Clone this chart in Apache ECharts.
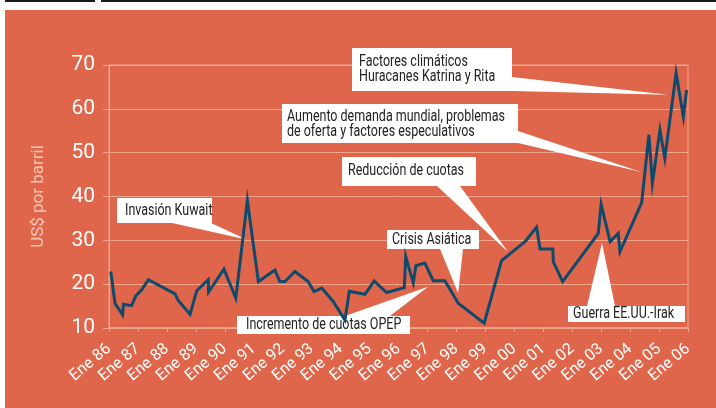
<!DOCTYPE html>
<html>
<head>
<meta charset="utf-8">
<title>Precio del petróleo</title>
<script src="https://cdn.jsdelivr.net/npm/echarts@6/dist/echarts.min.js"></script>
<style>
  html, body { margin: 0; padding: 0; background: #fff; }
  #wrap { position: relative; width: 716px; height: 408px; overflow: hidden; }
  .rule { position: absolute; top: 0; height: 2px; background: #1a1a1a; }
  #bg { position: absolute; left: 5px; top: 10px; right: 0; bottom: 0; background: #df664a; }
  #chart { position: absolute; left: 0; top: 0; width: 716px; height: 408px; }
</style>
</head>
<body>
<div id="wrap">
  <div class="rule" style="left:5px;width:90px"></div>
  <div class="rule" style="left:101px;right:0"></div>
  <div id="bg"></div>
  <div id="chart"></div>
</div>
<script type="text/javascript">
  // fecha (año decimal) y precio en US$ por barril
  var fechas = [1986.06, 1986.21, 1986.47, 1986.50, 1986.78, 1986.93, 1987.13, 1987.36, 1988.28, 1988.38,
                1988.80, 1989.03, 1989.43, 1989.44, 1989.97, 1990.38, 1990.78, 1991.16, 1991.73, 1991.90,
                1992.08, 1992.42, 1992.88, 1993.08, 1993.35, 1993.75, 1994.15, 1994.30, 1994.84, 1995.16,
                1995.59, 1996.20, 1996.25, 1996.51, 1996.60, 1996.91, 1997.20, 1997.60, 1998.07, 1998.96,
                1999.56, 2000.37, 2000.77, 2000.89, 2001.33, 2001.35, 2001.67, 2002.90, 2003.00, 2003.31,
                2003.59, 2003.65, 2004.40, 2004.65, 2004.77, 2005.03, 2005.20, 2005.59, 2005.84, 2005.95];
  var precios = [22.9, 15.6, 13.0, 15.4, 15.1, 17.4, 18.7, 21.0, 17.8, 16.4,
                 13.1, 18.5, 21.0, 18.2, 23.4, 16.8, 39.1, 20.6, 23.2, 20.6,
                 20.6, 22.9, 20.6, 18.3, 19.1, 16.0, 11.8, 18.4, 17.7, 20.7,
                 18.1, 19.2, 26.3, 20.3, 24.2, 24.8, 20.8, 20.8, 15.6, 11.1,
                 25.4, 29.7, 33.0, 28.0, 28.0, 25.1, 20.6, 31.6, 38.2, 29.7,
                 31.6, 27.4, 38.6, 54.1, 43.0, 55.2, 48.7, 68.2, 58.2, 64.3];
  var anioInicio = 1986, anioFin = 2006;
  var precioMin = 10, precioMax = 70, paso = 10;

  // notas: texto, caja (px), base del globo (px), punta en coordenadas de datos
  var notas = [
    { txt: ['Invasión Kuwait'], box: [117, 198, 95, 25], tx: 125, ty: [211], base: [[172, 223], [211, 223]], punta: [1990.75, 30.2] },
    { txt: ['Incremento de cuotas OPEP'], box: [237, 316, 173, 18], tx: 246, ty: [325], base: [[345, 316], [390, 316]], punta: [1997.02, 19.4] },
    { txt: ['Crisis Asiática'], box: [387, 230, 92, 19], tx: 392, ty: [240], base: [[440, 249], [463, 249]], punta: [1998.06, 18.0] },
    { txt: ['Reducción de cuotas'], box: [342, 157, 134, 29], tx: 348, ty: [171], base: [[437, 186], [460, 186]], punta: [1999.78, 27.4] },
    { txt: ['Aumento demanda mundial, problemas', 'de oferta y factores especulativos'], box: [282, 104, 236, 39], tx: 287, ty: [117, 132], base: [[518, 131], [518, 143]], punta: [2004.38, 45.6] },
    { txt: ['Factores climáticos', 'Huracanes Katrina y Rita'], box: [352, 48, 160, 43], tx: 359, ty: [62, 77], base: [[512, 77], [512, 91]], punta: [2005.31, 63.2] },
    { txt: ['Guerra EE.UU.-Irak'], box: [568, 306, 117, 16], tx: 573, ty: [314], base: [[587, 306], [615, 306]], punta: [2003.03, 29.4] }
  ];

  var fuente = "Roboto, 'Liberation Sans', sans-serif";
  var claro = '#f0a68c';

  var datos = fechas.map(function (f, i) { return [f, precios[i]]; });

  var myChart = echarts.init(document.getElementById('chart'), null, { renderer: 'canvas' });
  var option = {
    backgroundColor: 'transparent',
    animation: false,
    textStyle: { fontFamily: fuente },
    grid: {
      left: 109, right: 28, top: 65, bottom: 80,
      show: true, borderColor: claro, borderWidth: 1, backgroundColor: 'transparent'
    },
    xAxis: {
      type: 'value',
      min: anioInicio, max: anioFin, interval: 1,
      axisLine: { show: true, lineStyle: { color: claro, width: 1.5 } },
      axisTick: { show: true, length: 4, lineStyle: { color: claro } },
      splitLine: { show: false },
      axisLabel: {
        color: '#fff', fontSize: 16, rotate: 40, margin: 19, fontFamily: fuente,
        hideOverlap: false,
        formatter: function (v) { return 'Ene ' + String(v).slice(2); }
      }
    },
    yAxis: {
      type: 'value',
      min: precioMin, max: precioMax, interval: paso,
      name: 'US$ por barril',
      nameLocation: 'middle',
      nameGap: 62,
      nameTextStyle: { color: '#f8c7b2', fontSize: 17, fontFamily: fuente },
      axisLine: { show: true, lineStyle: { color: claro } },
      axisTick: { show: true, length: 6, lineStyle: { color: claro } },
      splitLine: { show: true, lineStyle: { color: claro, width: 1 } },
      axisLabel: { color: '#fff', fontSize: 21, margin: 14, fontFamily: fuente }
    },
    series: [
      {
        type: 'line',
        data: datos,
        symbol: 'none',
        z: 5,
        lineStyle: { color: '#0f4a6c', width: 3, join: 'miter' }
      }
    ]
  };
  myChart.setOption(option);

  // globos de texto
  var graficos = [];
  notas.forEach(function (n) {
    var p = myChart.convertToPixel({ gridIndex: 0 }, n.punta);
    graficos.push({
      type: 'polygon', z: 1, silent: true,
      shape: { points: [n.base[0], n.base[1], p] },
      style: { fill: '#fff' }
    });
    graficos.push({
      type: 'rect', z: 1, silent: true,
      shape: { x: n.box[0], y: n.box[1], width: n.box[2], height: n.box[3] },
      style: { fill: '#fff' }
    });
    n.txt.forEach(function (t, i) {
      graficos.push({
        type: 'text', z: 1, silent: true,
        x: n.tx, y: n.ty[i], scaleX: 0.78,
        style: { text: t, fill: '#222', font: '16px ' + fuente, verticalAlign: 'middle', align: 'left' }
      });
    });
  });
  myChart.setOption({ graphic: graficos });
</script>
</body>
</html>
